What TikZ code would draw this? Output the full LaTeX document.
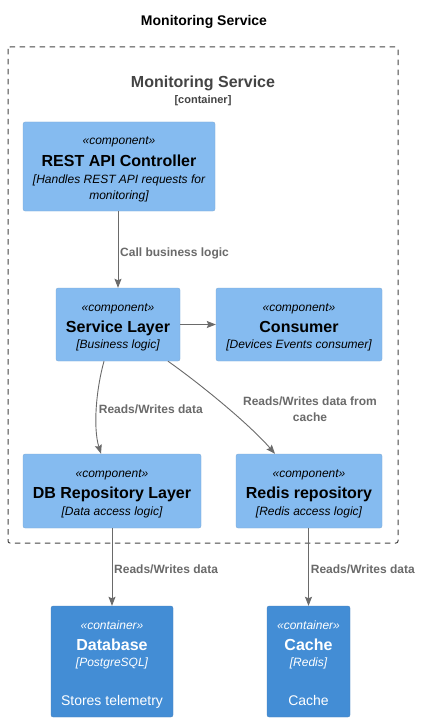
\documentclass[tikz,border=0pt]{standalone}
\usepackage{fontspec}
\setmainfont{Liberation Sans}
\usetikzlibrary{arrows.meta}
\definecolor{compfill}{HTML}{85BBF0}
\definecolor{contfill}{HTML}{438DD5}
\definecolor{arrowgray}{HTML}{6A6A6A}
\definecolor{boundgray}{HTML}{444444}
\tikzset{
  x=1pt, y=-1pt,
  compbox/.style={fill=compfill, draw=compfill!85!black!90, line width=0.3pt, rounded corners=2pt, inner sep=0pt},
  contbox/.style={fill=contfill, draw=contfill!85!black!90, line width=0.3pt, rounded corners=2pt, inner sep=0pt},
  stereo/.style={anchor=base, inner sep=0pt, font=\fontsize{12}{14}\selectfont\itshape},
  ctitle/.style={anchor=base, inner sep=0pt, font=\fontsize{16}{19}\selectfont\bfseries},
  cdesc/.style={anchor=base, inner sep=0pt, font=\fontsize{12}{14}\selectfont\itshape},
  plain/.style={anchor=base, inner sep=0pt, font=\fontsize{14}{16}\selectfont},
  rel/.style={draw=arrowgray, line width=0.9pt, -{Stealth[length=9pt,width=7pt,inset=1.5pt]}, arrowgray},
  rellabel/.style={inner sep=0pt, text=arrowgray, font=\fontsize{12}{14}\selectfont\bfseries},
}
\begin{document}
\begin{tikzpicture}
\useasboundingbox (0,0) rectangle (421,722);
\fill[white] (0,0) rectangle (421,722);

% title
\node[anchor=base, inner sep=0pt, font=\fontsize{14}{16}\selectfont\bfseries] (title) at (204,26) {Monitoring Service};

% boundary
\draw[boundgray, line width=1pt, dash pattern=on 5.5pt off 4.5pt, rounded corners=2pt] (8,47) rectangle (398,543);
\node[anchor=base, inner sep=0pt, text=boundgray, font=\fontsize{16}{19}\selectfont\bfseries] (btitle) at (203,87.3) {Monitoring Service};
\node[anchor=base, inner sep=0pt, text=boundgray, font=\fontsize{11}{13}\selectfont\bfseries] (btype) at (203,104) {[container]};

% REST API Controller
\path[compbox] (23,122) rectangle (215,211);
\node[minimum width=192pt, minimum height=89pt, inner sep=0pt] (rest) at (119,166.5) {};
\node[stereo] (rest1) at (119,145) {«component»};
\node[ctitle] (rest2) at (119,166.7) {REST API Controller};
\node[cdesc] (rest3) at (119,183.7) {[Handles REST API requests for};
\node[cdesc] (rest4) at (119,199.3) {monitoring]};

% Service Layer
\path[compbox] (56,288) rectangle (180,361);
\node[minimum width=124pt, minimum height=73pt, inner sep=0pt] (svc) at (118,324.5) {};
\node[stereo] (svc1) at (118,311.7) {«component»};
\node[ctitle] (svc2) at (118,332.7) {Service Layer};
\node[cdesc] (svc3) at (118,348.3) {[Business logic]};

% Consumer
\path[compbox] (216,288) rectangle (382,361);
\node[minimum width=166pt, minimum height=73pt, inner sep=0pt] (cons) at (299,324.5) {};
\node[stereo] (cons1) at (299,311.7) {«component»};
\node[ctitle] (cons2) at (299,332.7) {Consumer};
\node[cdesc] (cons3) at (299,348.3) {[Devices Events consumer]};

% DB Repository Layer
\path[compbox] (23,454) rectangle (201,528);
\node[minimum width=178pt, minimum height=74pt, inner sep=0pt] (dbrepo) at (112,491) {};
\node[stereo] (db1) at (112,477.3) {«component»};
\node[ctitle] (db2) at (112,498.7) {DB Repository Layer};
\node[cdesc] (db3) at (112,515) {[Data access logic]};

% Redis repository
\path[compbox] (236,454) rectangle (382,528);
\node[minimum width=146pt, minimum height=74pt, inner sep=0pt] (redisrepo) at (309,491) {};
\node[stereo] (rr1) at (309,477.3) {«component»};
\node[ctitle] (rr2) at (309,498.7) {Redis repository};
\node[cdesc] (rr3) at (309,515) {[Redis access logic]};

% Database
\path[contbox] (51,606) rectangle (173,717);
\node[minimum width=122pt, minimum height=111pt, inner sep=0pt] (db) at (112,661.5) {};
\node[stereo, text=white] (d1) at (112,629) {«container»};
\node[ctitle, text=white] (d2) at (112,650.3) {Database};
\node[cdesc, text=white] (d3) at (112,666) {[PostgreSQL]};
\node[plain, text=white] (d4) at (112,705) {Stores telemetry};

% Cache
\path[contbox] (267,606) rectangle (350,717);
\node[minimum width=83pt, minimum height=111pt, inner sep=0pt] (cache) at (308.5,661.5) {};
\node[stereo, text=white] (c1) at (308.5,629) {«container»};
\node[ctitle, text=white] (c2) at (308.5,650.3) {Cache};
\node[cdesc, text=white] (c3) at (308.5,666) {[Redis]};
\node[plain, text=white] (c4) at (308.5,705) {Cache};

% connectors
\draw[rel] (rest.south -| 118,0) -- (svc.north -| 118,0);
\node[rellabel, anchor=base west] (l1) at (120,256) {Call business logic};

\draw[rel] (svc.east) -- (cons.west);

\draw[rel] (svc.south -| 104,0) .. controls (96,390) and (93,428) .. (dbrepo.north -| 101,0);
\node[rellabel, anchor=base west] (l2) at (98.7,413.3) {Reads/Writes data};

\draw[rel] (svc.south -| 168,0) .. controls (203,386) and (250,425) .. (redisrepo.north -| 275,0);
\node[rellabel, anchor=base] (l3a) at (310,405.7) {Reads/Writes data from};
\node[rellabel, anchor=base] (l3b) at (310,421.3) {cache};

\draw[rel] (dbrepo.south) -- (db.north);
\node[rellabel, anchor=base west] (l4) at (114,573.3) {Reads/Writes data};

\draw[rel] (redisrepo.south -| 308.5,0) -- (cache.north);
\node[rellabel, anchor=base west] (l5) at (310.7,573.3) {Reads/Writes data};
\end{tikzpicture}
\end{document}
